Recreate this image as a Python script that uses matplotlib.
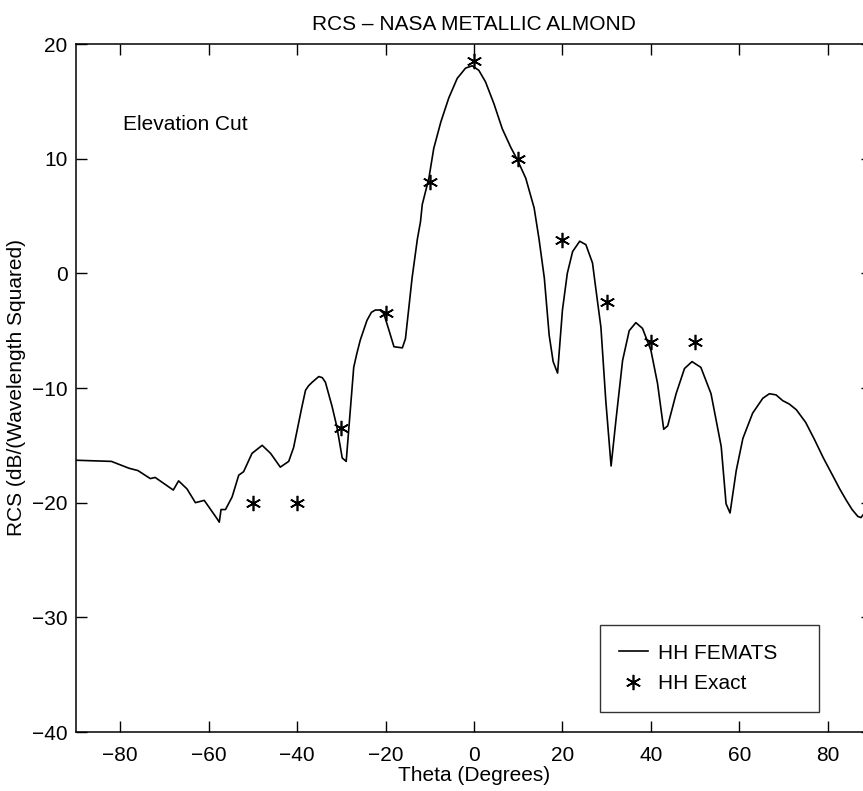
import numpy as np
import matplotlib
matplotlib.use("Agg")
import matplotlib.pyplot as plt

plt.rcParams['font.family'] = ['Liberation Sans', 'DejaVu Sans']

# HH FEMATS curve
theta = [-90, -82, -78, -76, -73.2, -72.1, -68, -66.8, -64.9, -63, -61, -58.1, -57.6,
         -57.2, -56.2, -54.7, -53.2, -52.1, -50.2, -47.9, -46, -43.8, -41.9, -40.8, -40,
         -39, -38.1, -37.4, -36.6, -35.1, -34.3, -33.6, -32.1, -31.0, -29.8, -28.9, -27.2,
         -26.5, -25.7, -24.2, -23.2, -22.3, -21.3, -20.4, -19.2, -18.1, -16.2, -15.5, -14.0,
         -12.8, -12.1, -11.7, -10.2, -9.1, -7.5, -5.7, -3.8, -1.9, -0.4, 1.1, 2.6, 4.5,
         6.4, 8.3, 9.8, 11.7, 13.6, 14.7, 15.9, 17.0, 17.9, 18.9, 20.0, 21.1, 22.3, 23.9,
         25.3, 26.8, 27.5, 28.7, 29.8, 31.0, 32.1, 33.6, 35.1, 36.6, 38.1, 40.0, 41.5,
         42.9, 43.8, 45.7, 47.6, 49.3, 51.3, 53.6, 55.9, 57.0, 57.9, 59.3, 60.8, 63.0,
         65.3, 66.8, 68.3, 69.8, 71.3, 72.9, 75, 77, 79, 81.2, 82.7, 84.2, 85.5, 86.8,
         87.5, 88.3, 90]
rcs_femats = [-16.3, -16.4, -17.0, -17.2, -17.9, -17.8, -18.9, -18.1, -18.8, -20.0, -19.8,
              -21.4, -21.7, -20.6, -20.6, -19.5, -17.6, -17.3, -15.7, -15.0, -15.7, -16.9,
              -16.4, -15.2, -13.7, -11.8, -10.2, -9.8, -9.5, -9.0, -9.1, -9.5, -11.6, -13.4,
              -16.1, -16.4, -8.2, -7.0, -5.8, -4.1, -3.4, -3.2, -3.2, -3.5, -5.0, -6.4,
              -6.5, -5.7, -0.4, 3.0, 4.5, 6.0, 8.3, 10.9, 13.2, 15.3, 17.0, 17.9, 18.1,
              17.7, 16.7, 14.8, 12.6, 11.0, 9.9, 8.3, 5.7, 3.0, -0.4, -5.4, -7.7, -8.7,
              -3.2, 0.0, 1.9, 2.8, 2.5, 0.9, -1.2, -4.7, -11.1, -16.8, -12.8, -7.6, -5.0,
              -4.3, -4.8, -6.7, -9.6, -13.6, -13.3, -10.5, -8.3, -7.7, -8.2, -10.5, -15.1,
              -20.1, -20.9, -17.2, -14.4, -12.2, -10.9, -10.5, -10.6, -11.1, -11.4, -11.9,
              -13.0, -14.5, -16.1, -17.7, -18.8, -19.8, -20.6, -21.2, -21.3, -20.9, -20.3]

# HH Exact points
theta_exact = [-50, -40, -30, -20, -10, 0, 10, 20, 30, 40, 50]
rcs_exact = [-20.0, -20.0, -13.5, -3.5, 8.0, 18.5, 10.0, 2.9, -2.5, -6.0, -6.0]

fig = plt.figure(figsize=(8.63, 7.91), dpi=100)
ax = fig.add_axes([76 / 863, 1 - 732 / 791, 796 / 863, 688 / 791])

ax.plot(theta, rcs_femats, color='black', linewidth=1.2, label='HH FEMATS')
ax.plot(theta_exact, rcs_exact, linestyle='none', marker=(6, 2, 0), markersize=11,
        markeredgewidth=1.2, color='black', label='HH Exact')

ax.set_xlim(-90, 90)
ax.set_ylim(-40, 20)
ax.set_xticks([-80, -60, -40, -20, 0, 20, 40, 60, 80])
ax.set_yticks([-40, -30, -20, -10, 0, 10, 20])
ax.tick_params(direction='in', length=8, width=1, labelsize=15, top=True, right=True)
ax.tick_params(axis='x', pad=10)
ax.tick_params(axis='y', pad=6)
for s in ax.spines.values():
    s.set_linewidth(1.1)

ax.set_title('RCS \u2013 NASA METALLIC ALMOND', fontsize=15, pad=10)
ax.set_xlabel('Theta (Degrees)', fontsize=15, labelpad=1)
ax.set_ylabel('RCS (dB/(Wavelength Squared)', fontsize=15, labelpad=4)
ax.text(-79.3, 13.0, 'Elevation Cut', fontsize=15, va='center')

leg = ax.legend(loc='upper left', bbox_to_anchor=(600 / 863, 1 - 712 / 791, 219 / 863, 87 / 791),
                bbox_transform=fig.transFigure, mode='expand', fontsize=15, frameon=True,
                fancybox=False, edgecolor='black', handlelength=1.4, handletextpad=0.5,
                labelspacing=0.55, borderpad=0.9, borderaxespad=0)
leg.get_frame().set_linewidth(1.0)

fig.savefig('out.png', dpi=100)
